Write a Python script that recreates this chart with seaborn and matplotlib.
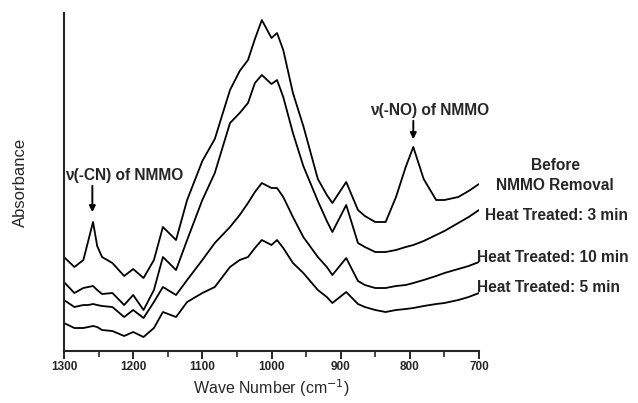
import numpy as np
import pandas as pd
import matplotlib
matplotlib.use("Agg")
import matplotlib.pyplot as plt
import seaborn as sns

# wave numbers (cm-1)
wave_number = [1300, 1285, 1272, 1265, 1258, 1252, 1245, 1230, 1213, 1200, 1185,
               1170, 1157, 1138, 1122, 1100, 1082, 1060, 1046, 1034, 1024, 1014,
               1000, 992, 983, 969, 954, 933, 920, 912, 892, 875, 865, 850, 835,
               820, 806, 795, 780, 762, 750, 730, 715, 700]

# absorbance (arbitrary units, offset spectra)
before_removal = [94, 84, 91, 110, 129, 105, 94, 88, 75, 82, 73, 91, 124, 111, 151,
                  190, 212, 261, 280, 291, 312, 331, 313, 318, 301, 258, 225, 172,
                  156, 148, 169, 141, 135, 129, 129, 154, 184, 204, 172, 151, 151,
                  154, 160, 167]
heat_3min = [69, 58, 63, 64, 65, 61, 57, 58, 46, 56, 41, 61, 94, 81, 111, 151, 178,
             228, 238, 248, 268, 276, 267, 271, 254, 218, 185, 150, 130, 119, 146,
             108, 104, 99, 99, 101, 104, 106, 110, 116, 120, 128, 134, 141]
heat_10min = [51, 44, 46, 46, 47, 46, 45, 44, 34, 41, 33, 49, 64, 56, 71, 91, 108,
              124, 136, 148, 159, 168, 163, 163, 154, 134, 114, 94, 84, 76, 93, 70,
              66, 63, 63, 65, 66, 68, 71, 75, 78, 82, 85, 89]
heat_5min = [28, 23, 23, 24, 25, 24, 21, 20, 15, 19, 14, 23, 39, 34, 49, 58, 64, 84,
             91, 94, 103, 111, 106, 111, 103, 88, 78, 61, 54, 48, 59, 47, 44, 41, 39,
             41, 42, 43, 45, 47, 48, 51, 54, 58]

series = {
    "Before NMMO Removal": before_removal,
    "Heat Treated: 3 min": heat_3min,
    "Heat Treated: 10 min": heat_10min,
    "Heat Treated: 5 min": heat_5min,
}

df = pd.concat([pd.DataFrame({"wn": wave_number, "abs": v, "sample": k})
                for k, v in series.items()], ignore_index=True)

sns.set_style("ticks")
plt.rcParams["font.family"] = ["Liberation Sans", "DejaVu Sans"]

fig = plt.figure(figsize=(6.38, 4.03), dpi=100)
ax = fig.add_axes([0.1003, 0.129, 0.6505, 0.8387])

sns.lineplot(data=df, x="wn", y="abs", hue="sample", units="sample",
             estimator=None, palette=["black"] * 4, linewidth=1.3,
             legend=False, ax=ax)

ax.set_xlim(1300, 700)
ax.set_ylim(0, 338)
ax.set_xticks([1300, 1200, 1100, 1000, 900, 800, 700])
ax.set_xticks(np.arange(700, 1301, 50), minor=True)
ax.set_yticks([])
ax.tick_params(axis="x", which="major", length=6, width=1.4, direction="out",
               labelsize=8.5, pad=1.5)
ax.tick_params(axis="x", which="minor", length=4, width=1.2, direction="out")
for lab in ax.get_xticklabels():
    lab.set_fontweight("bold")

sns.despine(ax=ax)
ax.spines["left"].set_linewidth(1.5)
ax.spines["bottom"].set_linewidth(1.5)

ax.set_xlabel(r"Wave Number (cm$^{-1}$)", fontsize=11.5, labelpad=3)
ax.set_ylabel("Absorbance", fontsize=12, labelpad=26)

txt = dict(fontsize=11.2, fontweight="bold", clip_on=False, va="center")
ax.text(590, 186, "Before", ha="center", **txt)
ax.text(590, 166, "NMMO Removal", ha="center", **txt)
ax.text(691, 136, "Heat Treated: 3 min", ha="left", **txt)
ax.text(703, 94, "Heat Treated: 10 min", ha="left", **txt)
ax.text(703, 64, "Heat Treated: 5 min", ha="left", **txt)

arrow = dict(arrowstyle="-|>", color="black", lw=1.4, mutation_scale=9)
ax.annotate("", xy=(1259, 136), xytext=(1259, 168), arrowprops=arrow)
ax.text(1298, 176, "ν(-CN) of NMMO", ha="left", **txt)
ax.annotate("", xy=(795, 209), xytext=(795, 233), arrowprops=arrow)
ax.text(771, 241, "ν(-NO) of NMMO", ha="center", **txt)

fig.savefig("out.png", dpi=100)
